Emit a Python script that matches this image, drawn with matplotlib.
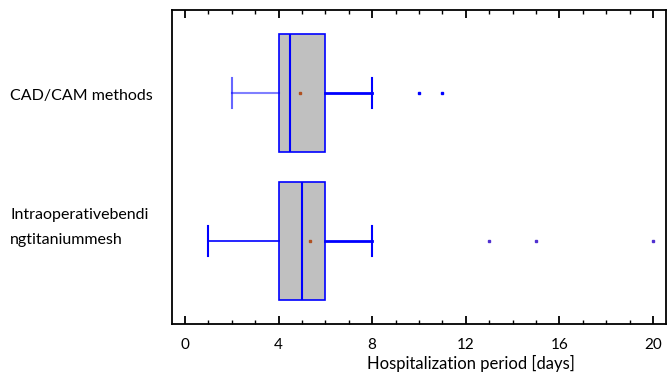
import matplotlib
matplotlib.use("Agg")
import matplotlib.pyplot as plt
from matplotlib.ticker import MultipleLocator
import matplotlib.transforms as mtransforms

plt.rcParams['font.family'] = ['Lato', 'DejaVu Sans']

categories = ["CAD/CAM methods", "Intraoperativebendi\nngtitaniummesh"]
whislo = [2, 1]
q1 = [4, 4]
med = [4.5, 5]
q3 = [6, 6]
whishi = [8, 8]
means = [4.9, 5.35]
outliers = [[10, 11], [13, 15, 20]]
positions = [1, 0]

fig = plt.figure(figsize=(6.67, 3.76), dpi=100)
ax = fig.add_axes([172/667, 1-324/376, (666-172)/667, (324-10)/376])

stats = []
for i in range(2):
    stats.append(dict(whislo=whislo[i], q1=q1[i], med=med[i], q3=q3[i],
                      whishi=whishi[i], mean=means[i], fliers=outliers[i],
                      label=categories[i]))

blue = "#0000ff"
bp = ax.bxp(stats, positions=positions, vert=False, widths=0.8,
            patch_artist=True, showmeans=True, showfliers=True,
            boxprops=dict(facecolor="#c0c0c0", edgecolor=blue, linewidth=1.2),
            medianprops=dict(color=blue, linewidth=1.5),
            whiskerprops=dict(color=blue, linewidth=1.2),
            capprops=dict(color=blue, linewidth=1.5),
            capwidths=0.2,
            meanprops=dict(marker='s', markersize=1.6, markerfacecolor="#b05020",
                           markeredgecolor="#b05020", linestyle='none'),
            flierprops=dict(marker='s', markersize=2, markerfacecolor=blue,
                            markeredgecolor=blue, linestyle='none'))

# right whiskers thicker, top left whisker lighter
for j, w in enumerate(bp['whiskers']):
    if j % 2 == 1:
        w.set_linewidth(2.0)
bp['whiskers'][0].set_alpha(0.5)
bp['whiskers'][0].set_linewidth(1.5)
bp['caps'][0].set_alpha(0.6)
bp['fliers'][1].set_markerfacecolor("#5030d0")
bp['fliers'][1].set_markeredgecolor("#5030d0")

ax.set_xlim(-0.55, 20.55)
ax.set_ylim(-0.56, 1.56)
ax.xaxis.set_major_locator(MultipleLocator(4))
ax.xaxis.set_minor_locator(MultipleLocator(1))
ax.tick_params(axis='x', which='both', direction='in', top=True, bottom=True,
               labelsize=11, pad=10)
ax.tick_params(axis='x', which='major', length=6, width=1.3)
ax.tick_params(axis='x', which='minor', length=3, width=1.0)
ax.set_yticks([])
for s in ax.spines.values():
    s.set_linewidth(1.3)

ax.set_xlabel("Hospitalization period [days]", fontsize=12)
ax.xaxis.set_label_coords(0.605, -0.098)

trans = mtransforms.blended_transform_factory(fig.transFigure, ax.transData)
ax.text(10/667, 0.98, categories[0], transform=trans, ha='left', va='center', fontsize=11.5)
ax.text(10/667, 0.09, categories[1], transform=trans, ha='left', va='center',
        fontsize=11.5, linespacing=2.0)

fig.savefig("out.png", dpi=100)
